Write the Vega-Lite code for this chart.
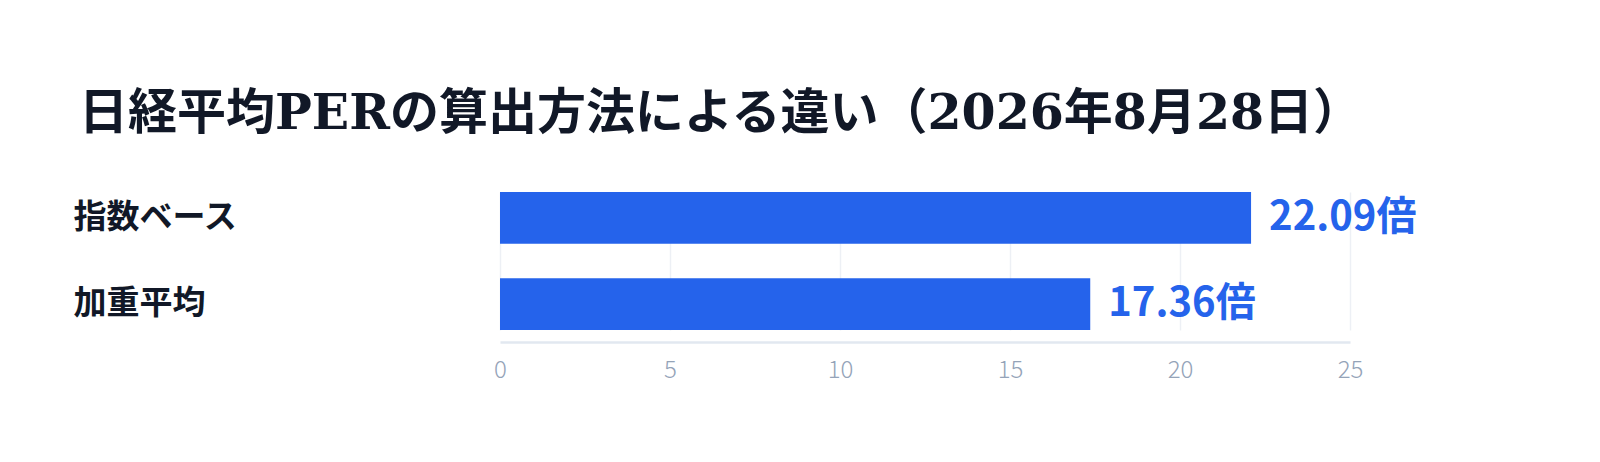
{
  "$schema": "https://vega.github.io/schema/vega-lite/v6.json",
  "autosize": {"type": "none"},
  "width": 850,
  "height": 138,
  "padding": {"left": 500, "top": 192, "right": 250, "bottom": 132},
  "background": "white",
  "title": {
    "text": "日経平均PERの算出方法による違い（2026年8月28日）",
    "anchor": "start",
    "frame": "group",
    "dx": -421,
    "offset": 14,
    "baseline": "alphabetic",
    "font": "DejaVu Serif, Noto Sans CJK JP",
    "fontSize": 49,
    "fontWeight": "bold",
    "color": "#111827"
  },
  "data": {
    "values": [
      {"method": "指数ベース", "per": 22.09, "label": "22.09倍"},
      {"method": "加重平均", "per": 17.36, "label": "17.36倍"}
    ]
  },
  "encoding": {
    "y": {
      "field": "method",
      "type": "nominal",
      "sort": null,
      "scale": {"paddingInner": 0.4, "paddingOuter": 0},
      "axis": {
        "title": null,
        "domain": false,
        "ticks": false,
        "grid": false,
        "labelAlign": "left",
        "labelPadding": 427,
        "labelFont": "Noto Sans CJK JP",
        "labelFontSize": 33,
        "labelFontWeight": "bold",
        "labelColor": "#111827"
      }
    },
    "x": {
      "field": "per",
      "type": "quantitative",
      "scale": {"domain": [0, 25], "nice": false},
      "axis": {
        "title": null,
        "values": [0, 5, 10, 15, 20, 25],
        "grid": true,
        "gridColor": "#edf0f5",
        "gridWidth": 1.5,
        "domainColor": "#e2e8f0",
        "domainWidth": 2.5,
        "ticks": false,
        "offset": 12,
        "labelFont": "Noto Sans CJK JP",
        "labelFontSize": 24,
        "labelFontWeight": 300,
        "labelColor": "#94a3b8",
        "labelPadding": 16,
        "labelFlush": false
      }
    }
  },
  "layer": [
    {"mark": {"type": "bar", "color": "#2563eb"}},
    {
      "mark": {
        "type": "text",
        "align": "left",
        "baseline": "middle",
        "dx": 18,
        "font": "Noto Sans CJK JP",
        "fontSize": 40,
        "fontWeight": "bold",
        "color": "#2563eb"
      },
      "encoding": {"text": {"field": "label"}}
    }
  ],
  "config": {"view": {"stroke": null}}
}
